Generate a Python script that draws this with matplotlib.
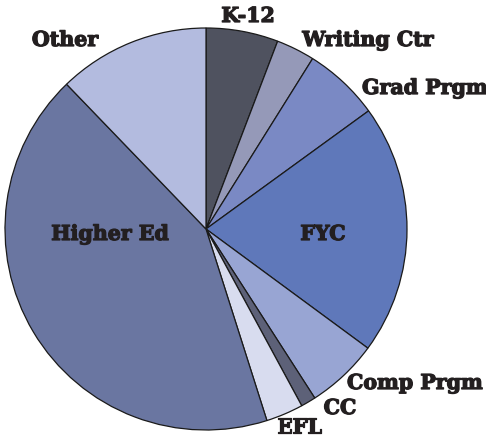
import matplotlib
matplotlib.use("Agg")
import matplotlib.pyplot as plt
import matplotlib.patheffects as pe

labels = ["K-12", "Writing Ctr", "Grad Prgm", "FYC", "Comp Prgm", "CC", "EFL", "Higher Ed", "Other"]
values = [5.8, 3.1, 6.1, 20.1, 5.8, 1.2, 3.0, 42.7, 12.2]
colors = ["#4f525f", "#9599b8", "#7a89c4", "#5f78ba", "#98a5d3", "#5d6178", "#d8dcef", "#6a76a1", "#b3bbdf"]

# label positions in pixel coordinates of the 486x436 image (center of text)
label_px = {
    "K-12": (248, 16, "center"),
    "Writing Ctr": (368, 40, "center"),
    "Grad Prgm": (362, 88, "left"),
    "FYC": (323, 234, "center"),
    "Comp Prgm": (347, 383, "left"),
    "CC": (340, 408, "center"),
    "EFL": (299, 427, "center"),
    "Higher Ed": (110, 234, "center"),
    "Other": (65, 40, "center"),
}

W, H = 486, 436
fig = plt.figure(figsize=(W / 100, H / 100), dpi=100)
cx, cy, r = 206, 229, 201
ax = fig.add_axes([(cx - r) / W, (H - cy - r) / H, 2 * r / W, 2 * r / H])
ax.pie(values, colors=colors, startangle=90, counterclock=False, radius=1,
       wedgeprops=dict(edgecolor="#1a1a1a", linewidth=0.9))
ax.set_xlim(-1, 1)
ax.set_ylim(-1, 1)
ax.set_aspect("equal")
ax.axis("off")

for lab in labels:
    px, py, ha = label_px[lab]
    fig.text(px / W, 1 - py / H, lab, ha=ha, va="center", fontsize=14.8,
             fontweight="bold", family="DejaVu Serif", color="#231f20",
             path_effects=[pe.withStroke(linewidth=0.9, foreground="#231f20")])

fig.savefig("out.png", dpi=100)
